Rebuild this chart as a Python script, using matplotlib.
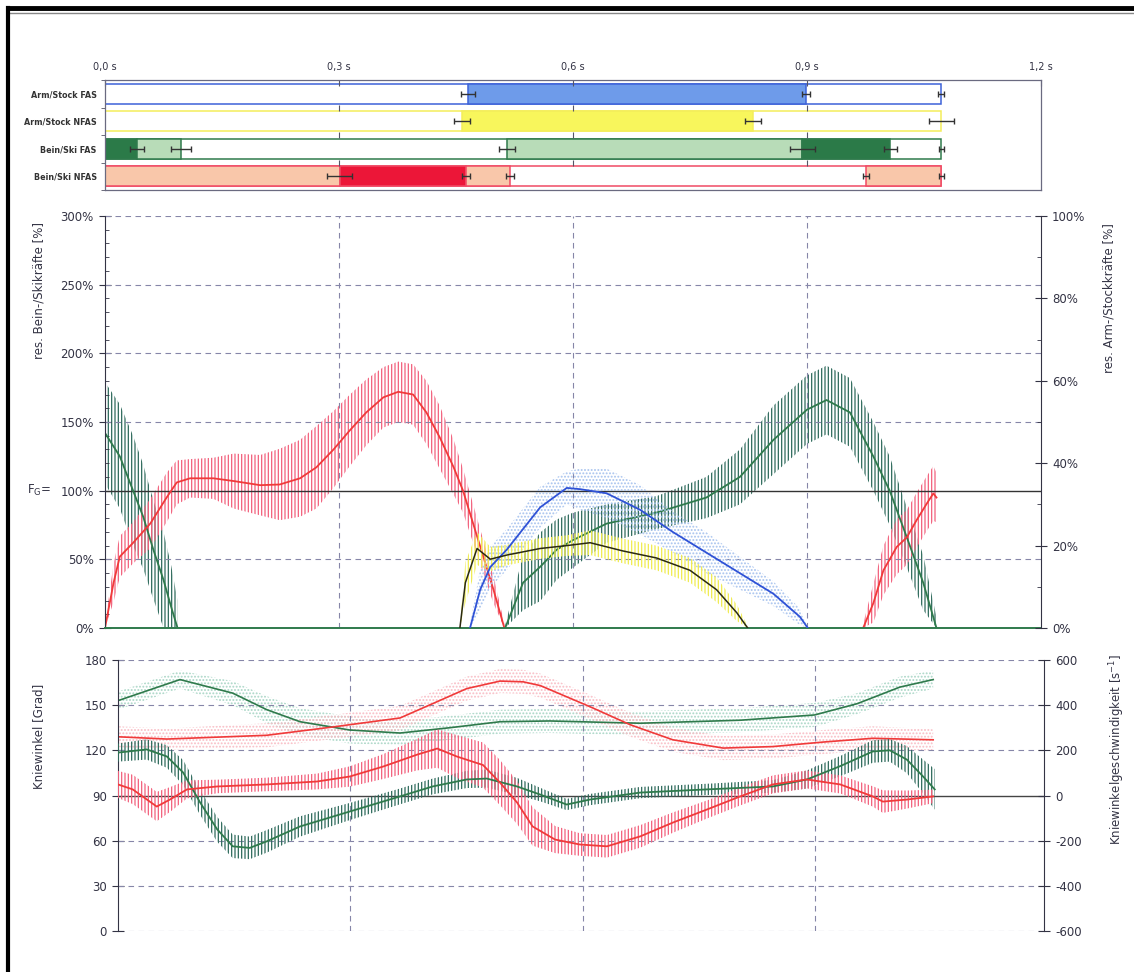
import numpy as np
import matplotlib.pyplot as plt
from matplotlib.lines import Line2D

plt.rcParams['font.family'] = ['DejaVu Sans']
plt.rcParams['hatch.linewidth'] = 0.9

# ---------- Phasenbalken (Zeiten in s) ----------
rows = ['Arm/Stock FAS', 'Arm/Stock NFAS', 'Bein/Ski FAS', 'Bein/Ski NFAS']
row_end = [1.072, 1.072, 1.072, 1.072]
# Phasen: Start, Ende, Art (0 = hell, 1 = dunkel)
phase_start = [[0.465], [0.458], [0.0, 0.041, 0.515, 0.894], [0.0, 0.301, 0.463, 0.976]]
phase_end = [[0.899], [0.831], [0.041, 0.097, 0.894, 1.007], [0.301, 0.463, 0.519, 1.072]]
phase_kind = [[1], [1], [1, 0, 0, 1], [0, 1, 0, 0]]
err_t = [[0.465, 0.899, 1.072], [0.458, 0.831, 1.072],
         [0.041, 0.097, 0.515, 0.894, 1.007, 1.072],
         [0.301, 0.463, 0.519, 0.976, 1.072]]
err_w = [[0.009, 0.005, 0.004], [0.010, 0.010, 0.016],
         [0.009, 0.013, 0.010, 0.016, 0.008, 0.003],
         [0.016, 0.005, 0.005, 0.004, 0.003]]

# ---------- Kräfte (Mitte) ----------
# Bein/Ski NFAS (rot), linke Achse [%]
red_t1 = [0.0, 0.011, 0.019, 0.036, 0.058, 0.079, 0.092, 0.109, 0.139, 0.165, 0.199, 0.224,
          0.25, 0.271, 0.293, 0.314, 0.335, 0.357, 0.376, 0.395, 0.412, 0.429, 0.447,
          0.459, 0.472, 0.485, 0.498, 0.512]
red_m1 = [0, 33, 52, 62, 76, 95, 106, 109, 109, 107, 104, 104.5, 109, 117, 130, 144, 157,
          168, 172, 170, 157, 139, 117, 100, 76, 52, 28, 0]
red_s1 = [2, 14, 15, 15, 18, 18, 16, 14, 15, 20, 22, 26, 28, 30, 28, 26, 24, 22, 22, 22,
          23, 23, 20, 16, 14, 12, 10, 3]
red_t2 = [0.972, 0.985, 0.998, 1.015, 1.028, 1.041, 1.054, 1.062, 1.066]
red_m2 = [0, 18, 42, 59, 66, 79, 91, 98, 95]
red_s2 = [3, 14, 18, 20, 20, 20, 20, 20, 18]

# Bein/Ski FAS (grün), linke Achse [%]
green_t1 = [0.0, 0.019, 0.036, 0.049, 0.062, 0.075, 0.085, 0.093]
green_m1 = [142, 125, 100, 81, 57, 35, 15, 0]
green_s1 = [37, 38, 40, 38, 36, 35, 30, 20]
green_t2 = [0.513, 0.536, 0.558, 0.579, 0.6, 0.643, 0.707, 0.771, 0.814, 0.857, 0.9, 0.925,
            0.955, 0.985, 1.006, 1.028, 1.049, 1.066]
green_m2 = [0, 33, 44.6, 57, 64, 76, 84, 95, 110, 137, 159, 166, 157, 125, 100, 66, 33, 0]
green_s2 = [2, 20, 25, 22, 20, 14, 12, 15, 20, 25, 25, 25, 25, 25, 25, 22, 20, 8]

# Arm/Stock FAS (blau), rechte Achse [%]
blue_t = [0.468, 0.481, 0.494, 0.515, 0.558, 0.592, 0.609, 0.643, 0.686, 0.728, 0.771,
          0.814, 0.857, 0.891, 0.901]
blue_m = [0, 9.3, 14.8, 19, 29.3, 34, 33.7, 32.7, 28.7, 23.3, 18.3, 13.3, 8.3, 2.7, 0]
blue_s = [1, 5, 5, 5, 5, 4, 5, 6, 6, 5, 5, 4, 3, 2, 0.5]

# Arm/Stock NFAS (gelb/schwarz), rechte Achse [%]
yel_t = [0.455, 0.462, 0.477, 0.494, 0.515, 0.558, 0.592, 0.622, 0.664, 0.707, 0.75,
         0.784, 0.81, 0.824]
yel_m = [0, 11, 19.3, 16.7, 17.7, 19.3, 20, 20.7, 18.7, 17, 14, 9.3, 3.7, 0]
yel_s = [0.5, 5, 4, 3, 2.5, 2.5, 2.5, 3, 3, 3, 3, 3, 2, 0.5]

# ---------- Kniewinkel / -geschwindigkeit (unten) ----------
ga_t = [0.0, 0.080, 0.148, 0.192, 0.235, 0.299, 0.364, 0.428, 0.493, 0.557, 0.674, 0.803,
        0.899, 0.954, 1.009, 1.052]
ga_m = [153, 167, 158, 147, 139, 133.5, 131.5, 135, 139, 139.5, 138, 140, 143.5, 151, 162, 167]
ga_s = [6, 6, 8, 9, 9, 9, 8, 8, 8, 8, 8, 8, 8, 7, 7, 6]

ra_t = [0.0, 0.063, 0.192, 0.277, 0.364, 0.406, 0.450, 0.493, 0.523, 0.545, 0.609, 0.661,
        0.716, 0.781, 0.845, 0.910, 0.974, 1.052]
ra_m = [129, 127.5, 130, 135.5, 141.5, 151, 161, 166, 165.5, 163, 149, 137, 127, 121.5,
        122.5, 125.5, 128, 127]
ra_s = [7, 7, 8, 8, 8, 8, 8, 8, 8, 8, 8, 8, 8, 8, 8, 8, 8, 7]

gv_t = [0.0, 0.037, 0.063, 0.084, 0.106, 0.128, 0.148, 0.170, 0.192, 0.235, 0.299, 0.364,
        0.406, 0.450, 0.476, 0.515, 0.545, 0.579, 0.609, 0.674, 0.760, 0.845, 0.889, 0.932,
        0.974, 0.996, 1.018, 1.039, 1.054]
gv_m = [190, 204, 173, 102, -31, -150, -225, -232, -203, -137, -71, -4, 40, 71, 75, 40, 4,
        -40, -18, 13, 27, 40, 71, 130, 195, 200, 159, 84, 27]
gv_s = [40, 45, 50, 55, 55, 55, 52, 50, 50, 45, 38, 35, 35, 38, 40, 38, 30, 25, 25, 25,
        25, 28, 40, 45, 50, 50, 60, 75, 90]

rv_t = [0.0, 0.019, 0.050, 0.067, 0.089, 0.128, 0.192, 0.257, 0.299, 0.342, 0.386, 0.412,
        0.437, 0.471, 0.493, 0.515, 0.535, 0.564, 0.596, 0.631, 0.674, 0.716, 0.760, 0.803,
        0.845, 0.889, 0.932, 0.974, 0.987, 1.018, 1.052]
rv_m = [49, 27, -49, -18, 27, 40, 49, 62, 84, 128, 181, 208, 173, 135, 57, -31, -137, -195,
        -217, -225, -181, -120, -62, -4, 49, 71, 49, -4, -27, -18, -4]
rv_s = [60, 65, 65, 55, 40, 30, 30, 35, 45, 55, 70, 85, 95, 100, 100, 95, 85, 60, 50, 50,
        50, 45, 40, 40, 40, 40, 40, 45, 50, 40, 30]

time_ticks = [0.0, 0.3, 0.6, 0.9, 1.2]
time_labels = ['0,0 s', '0,3 s', '0,6 s', '0,9 s', '1,2 s']

# ---------- Farben ----------
row_edge = ['#3d62d8', '#f4ee5a', '#2f7a4c', '#f04a64']
row_fill = [['#8fb0f0', '#6e9bea'], ['#fafa90', '#f8f65c'],
            ['#b8dcb8', '#2b7a48'], ['#f9c7aa', '#ec1638']]
GRID = '#8686a8'
AXC = '#333344'
G_LINE, G_HATCH = '#2f7a4c', '#2e6a5c'
R_LINE, R_HATCH = '#f03a3a', '#f2607c'
B_LINE, B_HATCH = '#2f52d6', '#a6c2ee'
Y_HATCH, K_LINE = '#f0ec50', '#2a2a12'

fig = plt.figure(figsize=(11.34, 9.72), dpi=100)
W, H = 1134.0, 972.0
ax_top = fig.add_axes([105 / W, 1 - 190 / H, 936 / W, 110 / H])
ax_mid = fig.add_axes([105 / W, 1 - 628 / H, 936 / W, 412 / H])
ax_low = fig.add_axes([118 / W, 1 - 931 / H, 926 / W, 271 / H])

# Rahmen (Scan): oben und links
fig.add_artist(Line2D([8 / W, 1], [1 - 8 / H, 1 - 8 / H], color='black', lw=3.5))
fig.add_artist(Line2D([8 / W, 1], [1 - 13 / H, 1 - 13 / H], color='#888888', lw=1.0))
fig.add_artist(Line2D([8 / W, 8 / W], [0, 1 - 8 / H], color='black', lw=3.0))

# ---------- oben ----------
bh = 0.73
for i in range(len(rows)):
    y = i + 0.5
    ax_top.barh(y, row_end[i], left=0, height=bh, facecolor='white', edgecolor=row_edge[i], lw=1.1)
    for s, e, k in zip(phase_start[i], phase_end[i], phase_kind[i]):
        ax_top.barh(y, e - s, left=s, height=bh, facecolor=row_fill[i][k],
                    edgecolor=row_edge[i], lw=1.1)
    ax_top.errorbar(err_t[i], [y] * len(err_t[i]), xerr=err_w[i], fmt='none', ecolor='#333333',
                    elinewidth=1.0, capsize=2.5, capthick=1.0)
for b in [1, 2, 3]:
    ax_top.plot(time_ticks[1:4], [b] * 3, '|', color='#555566', ms=4, mew=0.8)
ax_top.set_xlim(0, 1.2)
ax_top.set_ylim(4, 0)
ax_top.xaxis.tick_top()
ax_top.set_xticks(time_ticks)
ax_top.set_xticklabels(time_labels, fontsize=7, color=AXC)
ax_top.tick_params(axis='x', direction='in', length=4, color='#555566', pad=6)
ax_top.set_yticks([i + 0.5 for i in range(len(rows))])
ax_top.set_yticklabels(rows, fontsize=5.8, fontweight='bold', color='#333333')
ax_top.set_yticks([0, 1, 2, 3, 4], minor=True)
ax_top.tick_params(axis='y', which='major', length=0, pad=6)
ax_top.tick_params(axis='y', which='minor', length=3, color='#555566')
for sp in ax_top.spines.values():
    sp.set_color('#6a6a80')
    sp.set_linewidth(0.9)


def band(ax, t, m, s, line_c, hatch_c, hatch, lw=1.3, floor=None):
    m = np.asarray(m, float)
    s = np.asarray(s, float)
    lo = m - s
    if floor is not None:
        lo = np.clip(lo, floor, None)
    ax.fill_between(t, lo, m + s, facecolor='none', edgecolor=hatch_c, hatch=hatch, linewidth=0)
    ax.plot(t, m, color=line_c, lw=lw)


# ---------- Mitte ----------
ax_mid.set_xlim(0, 1.2)
ax_mid.set_ylim(0, 300)
for yv in [50, 150, 200, 250, 300]:
    ax_mid.axhline(yv, color=GRID, lw=0.8, ls=(0, (5, 4)))
for xv in time_ticks[1:4]:
    ax_mid.axvline(xv, color=GRID, lw=0.8, ls=(0, (5, 4)))
ax_mid.axhline(100, color='#333333', lw=1.0)
band(ax_mid, green_t1, green_m1, green_s1, G_LINE, G_HATCH, '|||||', floor=0)
band(ax_mid, green_t2, green_m2, green_s2, G_LINE, G_HATCH, '|||||', floor=0)
band(ax_mid, red_t1, red_m1, red_s1, R_LINE, R_HATCH, '|||||', floor=0)
band(ax_mid, red_t2, red_m2, red_s2, R_LINE, R_HATCH, '|||||', floor=0)
ax_mid.set_yticks(range(0, 301, 50))
ax_mid.set_yticklabels([f'{v}%' for v in range(0, 301, 50)], fontsize=8.5, color=AXC)
ax_mid.set_yticks(range(0, 301, 10), minor=True)
ax_mid.set_xticks([])
ax_mid.tick_params(axis='y', which='major', direction='inout', length=8, color=AXC, pad=4)
ax_mid.tick_params(axis='y', which='minor', direction='in', length=3, color=AXC)
ax_mid.set_ylabel('res. Bein-/Skikräfte [%]', fontsize=8.5, color=AXC)
ax_mid.yaxis.set_label_coords(-0.064, 0.82)
ax_mid.text(-0.057, 100, 'F$_{\\rm G}$=', transform=ax_mid.get_yaxis_transform(),
            ha='right', va='center', fontsize=8.5, color=AXC)
ax_mid.spines['top'].set_visible(False)
ax_mid.spines['right'].set_visible(False)
ax_mid.spines['bottom'].set_color(G_LINE)
ax_mid.spines['bottom'].set_linewidth(1.4)
ax_mid.spines['left'].set_color(AXC)

ax_mr = ax_mid.twinx()
ax_mr.set_ylim(0, 100)
band(ax_mr, blue_t, blue_m, blue_s, B_LINE, B_HATCH, '.....', floor=0)
band(ax_mr, yel_t, yel_m, yel_s, K_LINE, Y_HATCH, '|||||', lw=1.1, floor=0)
ax_mr.set_yticks(range(0, 101, 20))
ax_mr.set_yticklabels([f'{v}%' for v in range(0, 101, 20)], fontsize=8.5, color=AXC)
ax_mr.set_yticks(range(0, 101, 10), minor=True)
ax_mr.tick_params(axis='y', which='major', direction='inout', length=8, color=AXC, pad=4)
ax_mr.tick_params(axis='y', which='minor', direction='in', length=3, color=AXC)
ax_mr.set_ylabel('res. Arm-/Stockkräfte [%]', fontsize=8.5, color=AXC)
ax_mr.yaxis.set_label_coords(1.066, 0.80)
for k in ['top', 'left', 'bottom']:
    ax_mr.spines[k].set_visible(False)
ax_mr.spines['right'].set_color(AXC)

# ---------- unten ----------
ax_low.set_xlim(0, 1.195)
ax_low.set_ylim(0, 180)
for yv in [0, 30, 60, 120, 150, 180]:
    ax_low.axhline(yv, color=GRID, lw=0.8, ls=(0, (5, 4)))
for xv in time_ticks[1:4]:
    ax_low.axvline(xv, color=GRID, lw=0.8, ls=(0, (5, 4)))
ax_low.axhline(90, color='#444444', lw=1.0)
band(ax_low, ga_t, ga_m, ga_s, G_LINE, '#a9d6c6', '.....', lw=1.2)
band(ax_low, ra_t, ra_m, ra_s, R_LINE, '#f8bcc4', '.....', lw=1.2)
ax_low.set_yticks(range(0, 181, 30))
ax_low.set_yticklabels([str(v) for v in range(0, 181, 30)], fontsize=8.5, color=AXC)
ax_low.set_xticks([])
ax_low.tick_params(axis='y', direction='inout', length=8, color=AXC, pad=4)
ax_low.set_ylabel('Kniewinkel [Grad]', fontsize=8.5, color=AXC)
ax_low.yaxis.set_label_coords(-0.079, 0.72)
for k in ['top', 'right', 'bottom']:
    ax_low.spines[k].set_visible(False)
ax_low.spines['left'].set_color(AXC)

ax_lr = ax_low.twinx()
ax_lr.set_ylim(-600, 600)
band(ax_lr, gv_t, gv_m, gv_s, G_LINE, G_HATCH, '|||||', lw=1.3)
band(ax_lr, rv_t, rv_m, rv_s, R_LINE, R_HATCH, '|||||', lw=1.3)
ax_lr.set_yticks(range(-600, 601, 200))
ax_lr.set_yticklabels([str(v) for v in range(-600, 601, 200)], fontsize=8.5, color=AXC)
ax_lr.tick_params(axis='y', direction='inout', length=8, color=AXC, pad=4)
ax_lr.set_ylabel('Kniewinkelgeschwindigkeit [s$^{-1}$]', fontsize=8.5, color=AXC)
ax_lr.yaxis.set_label_coords(1.068, 0.67)
for k in ['top', 'left', 'bottom']:
    ax_lr.spines[k].set_visible(False)
ax_lr.spines['right'].set_color(AXC)

fig.savefig('out.png', dpi=100)
